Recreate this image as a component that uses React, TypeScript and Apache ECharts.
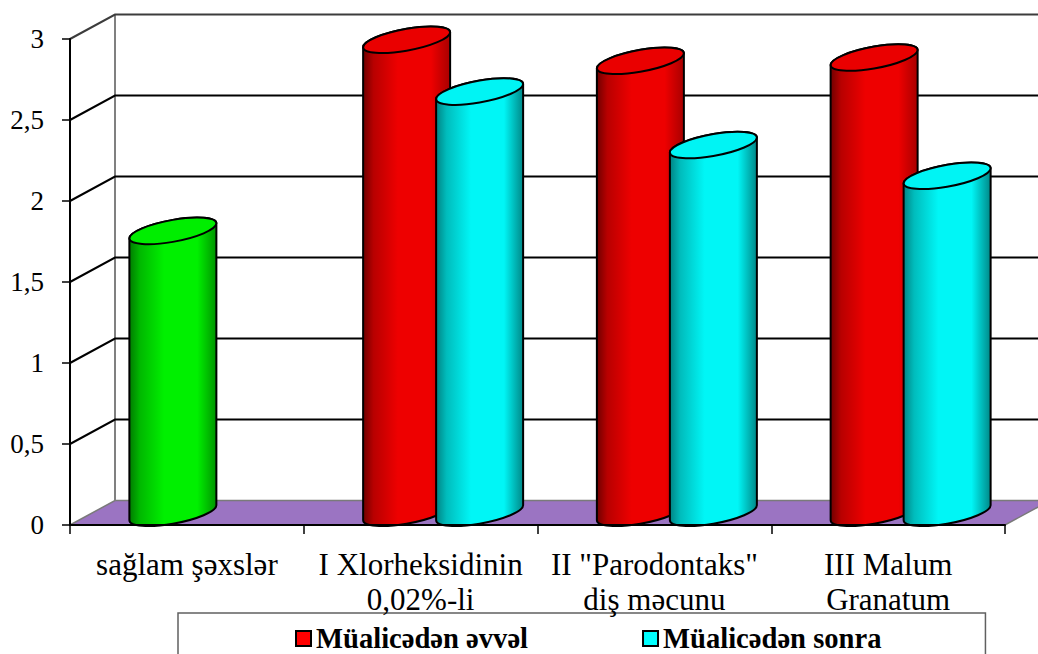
import React, { useEffect, useRef } from "react";
import * as echarts from "echarts";

const categories = [
  "sağlam şəxslər",
  "I Xlorheksidinin\n0,02%-li",
  'II "Parodontaks"\ndiş məcunu',
  "III Malum\nGranatum",
];
const seriesBeforeName = "Müalicədən əvvəl";
const seriesAfterName = "Müalicədən sonra";
const beforeValues = [1.74, 2.92, 2.79, 2.81];
const afterValues = [null, 2.6, 2.27, 2.08];
const wallTicks = [0, 0.5, 1, 1.5, 2, 2.5, 3];

const FONT = "Liberation Serif";
const DEPTH_X = 45;
const DEPTH_Y = 24.5;
const BAR_OFFSET = 36.5;
const AX = 43.5;
const AY = -7.5;
const BY = -11;
const KAPPA = 0.5523;
const EXT_Y = Math.hypot(AY, BY);

type Shade = { dark: string; soft: string; mid: string; edge: string; cap: string };
const RED: Shade = { dark: "#700000", soft: "#b80000", mid: "#ee0000", edge: "#a80000", cap: "#ea0000" };
const CYAN: Shade = { dark: "#008484", soft: "#00bcbc", mid: "#00f6f6", edge: "#008888", cap: "#00f4f4" };
const GREEN: Shade = { dark: "#007c00", soft: "#00b800", mid: "#00f000", edge: "#009400", cap: "#00ee00" };

// One quarter of the skewed ellipse, from angle index q to q+1, as a cubic segment.
function quarter(cx: number, cy: number, q: number) {
  const dirs = [
    [AX, AY],
    [0, BY],
    [-AX, -AY],
    [0, -BY],
  ];
  const p = dirs[q % 4];
  const n = dirs[(q + 1) % 4];
  const c1 = [cx + p[0] + KAPPA * n[0], cy + p[1] + KAPPA * n[1]];
  const c2 = [cx + n[0] + KAPPA * p[0], cy + n[1] + KAPPA * p[1]];
  return `C${c1[0]} ${c1[1]} ${c2[0]} ${c2[1]} ${cx + n[0]} ${cy + n[1]}`;
}

function cylinderRenderer(offset: number, shadeFor: (idx: number) => Shade) {
  return (_params: any, api: any) => {
    const idx = api.value(0);
    const value = api.value(1);
    if (value == null || isNaN(value)) return null;
    const base = api.coord([idx, 0]);
    const top = api.coord([idx, value]);
    const cx = base[0] + DEPTH_X / 2 + offset;
    const by = base[1] - DEPTH_Y / 2;
    const ty = top[1] - DEPTH_Y / 2;
    const shade = shadeFor(idx);
    const body =
      `M${cx - AX} ${ty - AY}L${cx - AX} ${by - AY}` +
      quarter(cx, by, 2) +
      quarter(cx, by, 3) +
      `L${cx + AX} ${ty + AY}` +
      quarter(cx, ty, 0) +
      quarter(cx, ty, 1) +
      "Z";
    const cap =
      `M${cx + AX} ${ty + AY}` +
      quarter(cx, ty, 0) +
      quarter(cx, ty, 1) +
      quarter(cx, ty, 2) +
      quarter(cx, ty, 3) +
      "Z";
    const x0 = cx - AX;
    return {
      type: "group",
      children: [
        {
          type: "path",
          shape: { pathData: body, layout: "cover", x: x0, y: ty - EXT_Y, width: 2 * AX, height: by - ty + 2 * EXT_Y },
          style: {
            fill: new echarts.graphic.LinearGradient(0, 0, 1, 0, [
              { offset: 0, color: shade.dark },
              { offset: 0.12, color: shade.soft },
              { offset: 0.4, color: shade.mid },
              { offset: 0.78, color: shade.mid },
              { offset: 1, color: shade.edge },
            ]),
            stroke: "#000",
            lineWidth: 2,
            lineJoin: "round",
          },
        },
        {
          type: "path",
          shape: { pathData: cap, layout: "cover", x: x0, y: ty - EXT_Y, width: 2 * AX, height: 2 * EXT_Y },
          style: { fill: shade.cap, stroke: "#000", lineWidth: 2 },
        },
      ],
    };
  };
}

// Floor, back edge and the perspective grid lines, positioned from the axes.
function wallsRenderer(_params: any, api: any) {
  const v = api.value(0);
  const front = api.coord([0, v]);
  const band = api.size([1, 0])[0];
  const xl = front[0] - band / 2;
  const xr = xl + band * categories.length;
  const y = front[1];
  const children: any[] = [];
  if (v === 0) {
    const top = api.coord([0, 3])[1];
    children.push({
      type: "polygon",
      shape: {
        points: [
          [xl, y],
          [xr, y],
          [xr + DEPTH_X, y - DEPTH_Y],
          [xl + DEPTH_X, y - DEPTH_Y],
        ],
      },
      style: { fill: "#9b74c2", stroke: "#7a7a7a", lineWidth: 1.5 },
    });
    children.push({
      type: "line",
      shape: { x1: xl + DEPTH_X, y1: y - DEPTH_Y, x2: xl + DEPTH_X, y2: top - DEPTH_Y },
      style: { stroke: "#808080", lineWidth: 2 },
    });
  } else {
    children.push({
      type: "polyline",
      shape: {
        points: [
          [xl, y],
          [xl + DEPTH_X, y - DEPTH_Y],
          [xr + DEPTH_X, y - DEPTH_Y],
        ],
      },
      style: { stroke: v === 3 ? "#3c3c3c" : "#000", fill: "none", lineWidth: 2 },
    });
  }
  return { type: "group", children };
}

export default function App() {
  const ref = useRef<HTMLDivElement>(null);
  useEffect(() => {
    const chart = echarts.init(ref.current!, undefined, { renderer: "svg" });
    chart.setOption({
      animation: false,
      backgroundColor: "#ffffff",
      textStyle: { fontFamily: FONT },
      grid: { left: 70, top: 39, width: 935, height: 486, containLabel: false },
      xAxis: {
        type: "category",
        data: categories,
        boundaryGap: true,
        z: 5,
        axisLine: { lineStyle: { color: "#000", width: 2 } },
        axisTick: { show: true, length: 9, lineStyle: { color: "#000", width: 1.5 } },
        axisLabel: {
          interval: 0,
          fontFamily: FONT,
          fontSize: 31,
          color: "#000",
          lineHeight: 35,
          margin: 22,
        },
        splitLine: { show: false },
      },
      yAxis: {
        type: "value",
        min: 0,
        max: 3,
        interval: 0.5,
        z: 5,
        axisLine: { show: true, lineStyle: { color: "#000", width: 2 } },
        axisTick: { show: true, length: 8, lineStyle: { color: "#000", width: 1.5 } },
        axisLabel: {
          fontFamily: FONT,
          fontSize: 27,
          color: "#000",
          margin: 26,
          padding: [4, 0, 0, 0],
          formatter: (v: number) => String(v).replace(".", ","),
        },
        splitLine: { show: false },
      },
      legend: {
        left: 178,
        top: 613,
        orient: "horizontal",
        data: [
          { name: seriesBeforeName, icon: "rect", itemStyle: { color: "#ff0000", borderColor: "#000", borderWidth: 2 } },
          { name: seriesAfterName, icon: "rect", itemStyle: { color: "#00ffff", borderColor: "#000", borderWidth: 2 } },
        ],
        itemWidth: 15,
        itemHeight: 15,
        itemGap: 114,
        padding: [11, 104, 40, 117],
        borderColor: "#606060",
        borderWidth: 1.5,
        backgroundColor: "#ffffff",
        selectedMode: false,
        textStyle: { fontFamily: FONT, fontSize: 28.6, fontWeight: "bold", color: "#000" },
      },
      series: [
        {
          name: "walls",
          type: "custom",
          clip: false,
          silent: true,
          z: 1,
          renderItem: wallsRenderer,
          encode: { y: 0 },
          data: wallTicks.map((v) => [v]),
        },
        {
          name: seriesBeforeName,
          type: "custom",
          clip: false,
          z: 2,
          renderItem: cylinderRenderer(-BAR_OFFSET, (i) => (i === 0 ? GREEN : RED)),
          encode: { x: 0, y: 1 },
          data: beforeValues.map((v, i) => [i, v]),
        },
        {
          name: seriesAfterName,
          type: "custom",
          clip: false,
          z: 3,
          renderItem: cylinderRenderer(BAR_OFFSET, () => CYAN),
          encode: { x: 0, y: 1 },
          data: afterValues.map((v, i) => [i, v]),
        },
      ],
    });
    return () => chart.dispose();
  }, []);
  return <div ref={ref} style={{ position: "absolute", left: 0, top: 0, width: 1038, height: 654, overflow: "hidden" }} />;
}
